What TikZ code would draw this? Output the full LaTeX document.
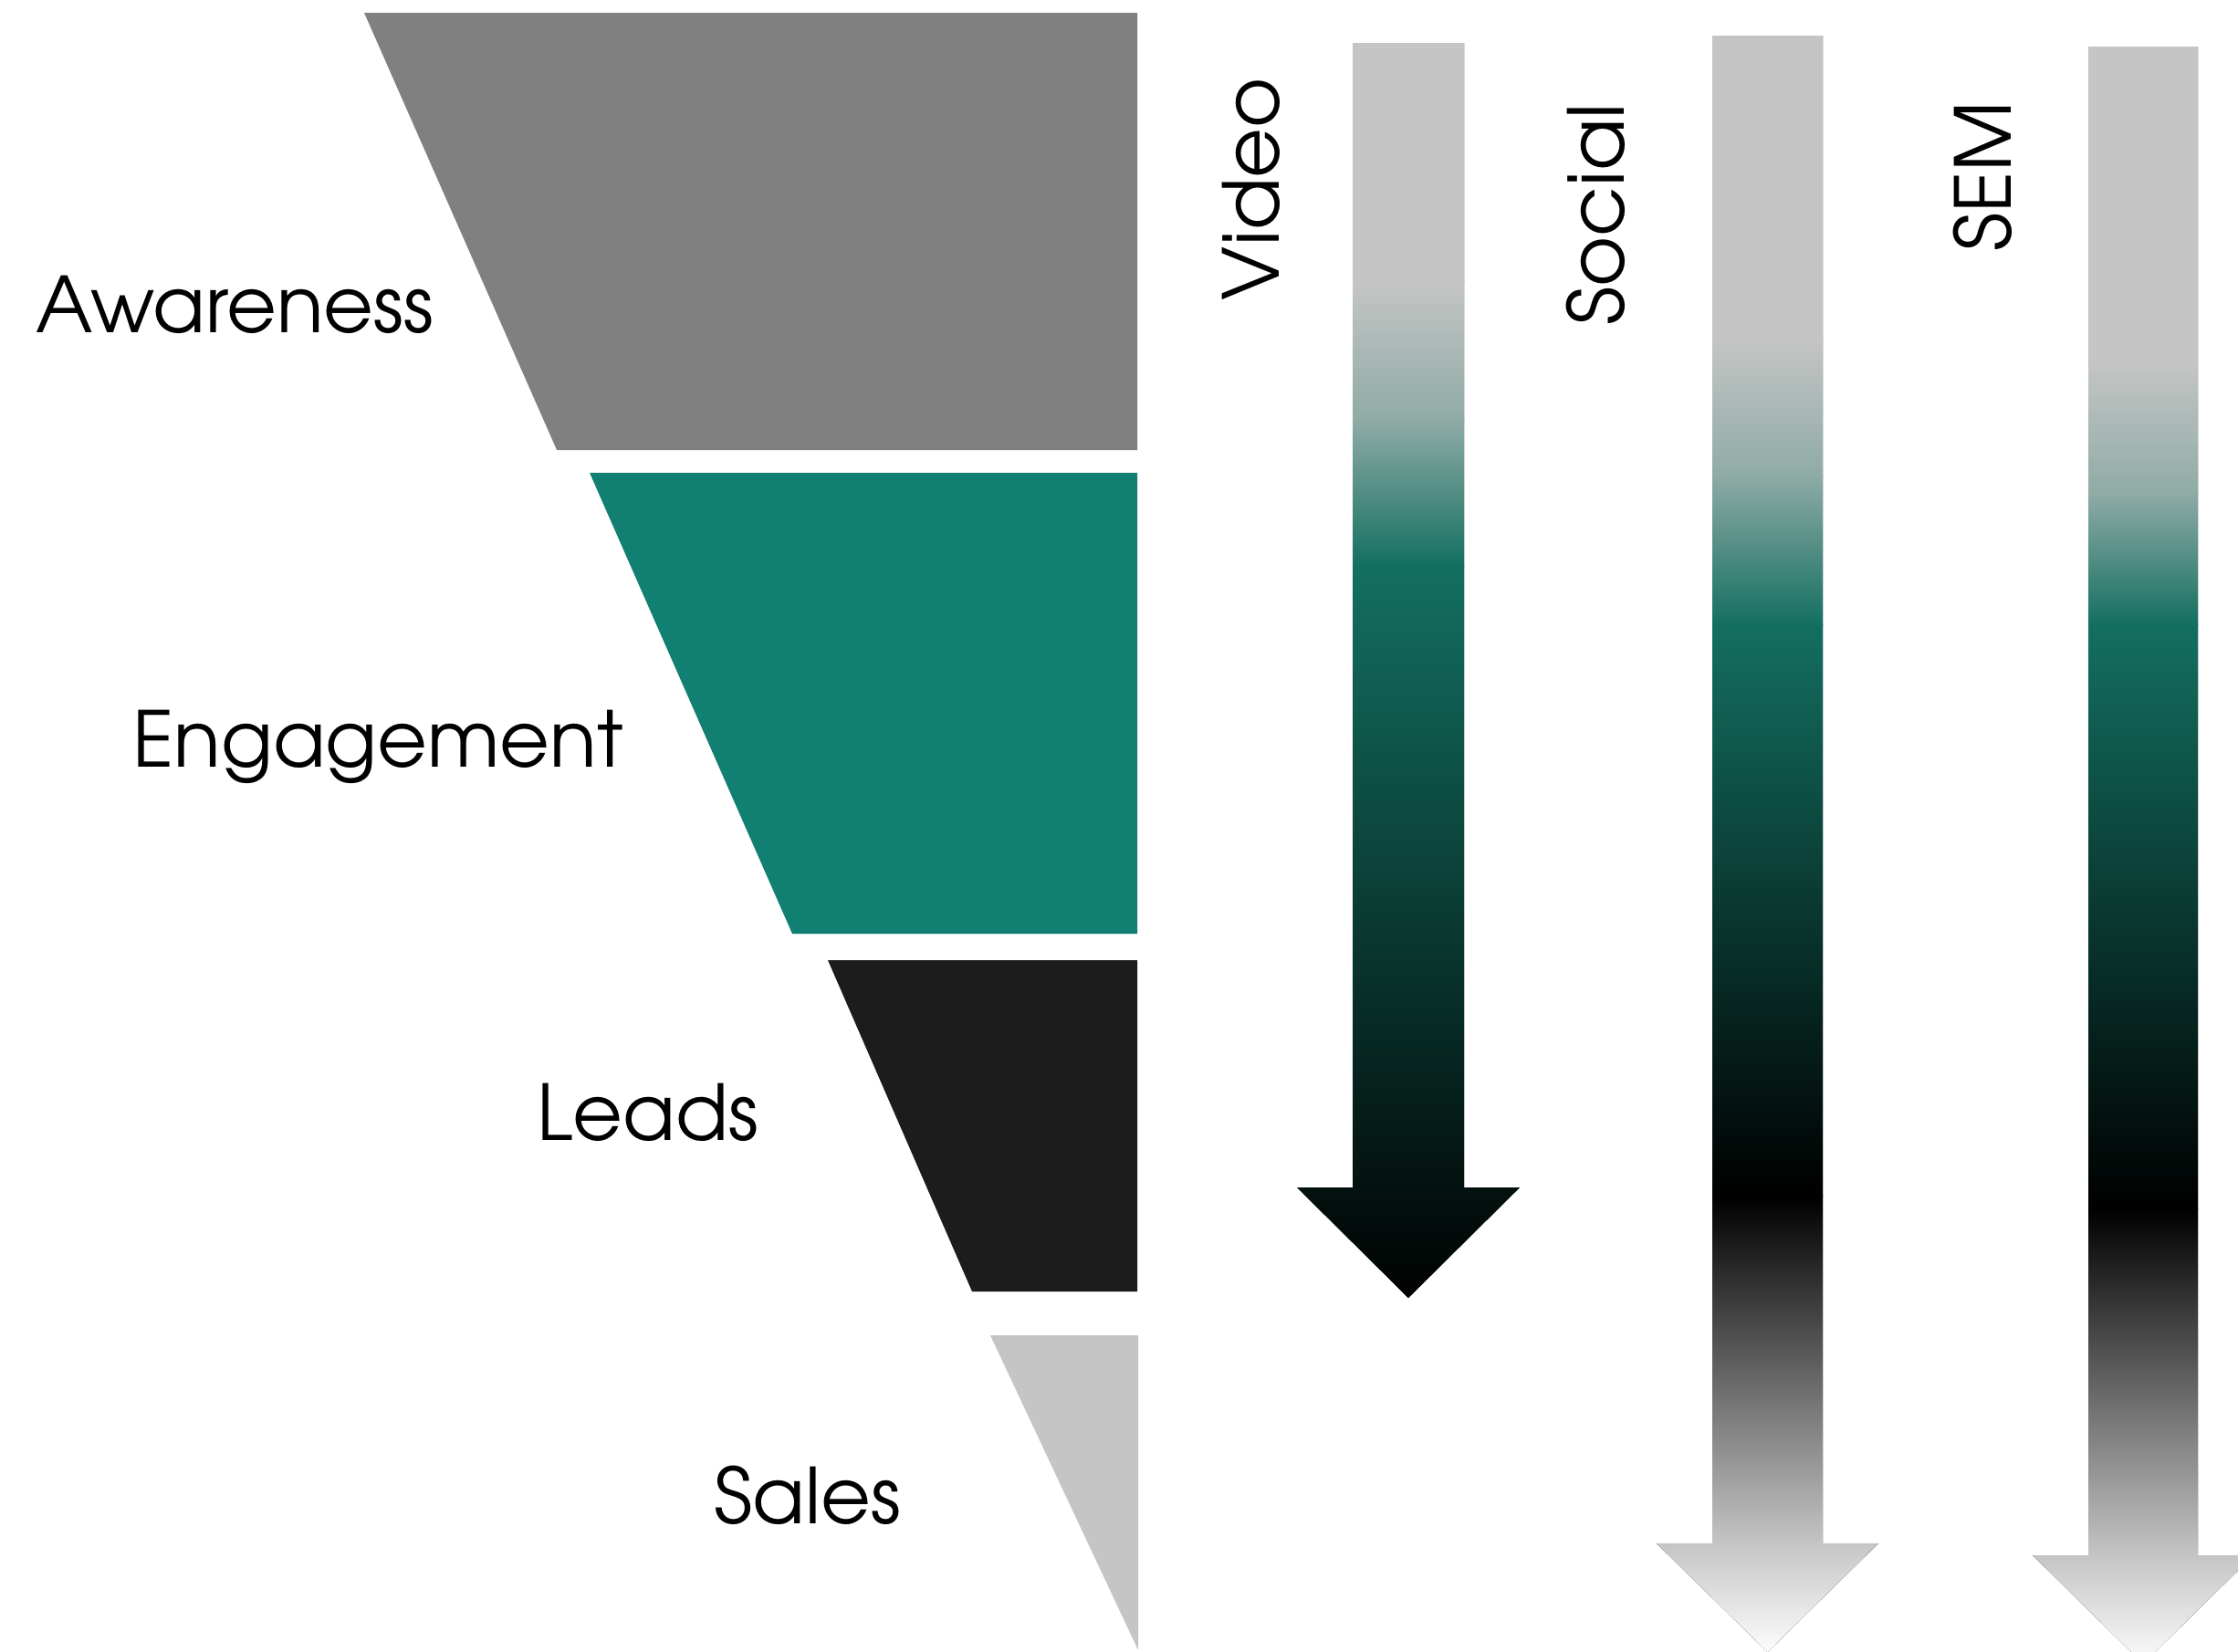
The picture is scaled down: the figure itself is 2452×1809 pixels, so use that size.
\documentclass[tikz,border=0pt]{standalone}
\usepackage{fontspec}
\setmainfont{TeX Gyre Adventor}
\usepackage{xcolor}
\usepackage{tikz}
\definecolor{grayAware}{HTML}{808080}
\definecolor{tealEngage}{HTML}{117F71}
\definecolor{blackLeads}{HTML}{1C1C1C}
\definecolor{graySales}{HTML}{C5C5C5}
\definecolor{tealFade}{HTML}{136F60}
\definecolor{mistFade}{HTML}{8FABA6}
\tikzset{stage-label/.style={anchor=base west, inner sep=0, font=\fontsize{24}{28}\selectfont}}
\tikzset{channel-label/.style={rotate=90, inner sep=0, font=\fontsize{24}{28}\selectfont}}
\tikzset{funnel-part/.style={draw=none}}
% arrow outline: centre x, half shaft, top, head base, half head, tip
\newcommand{\arrowpath}[6]{(#1-#2,#3) -- (#1+#2,#3) -- (#1+#2,#4) -- (#1+#5,#4) -- (#1,#6) -- (#1-#5,#4) -- (#1-#2,#4) -- cycle}
% one vertical band of the fade
\newcommand{\fadeband}[4]{\fill[top color=#3, bottom color=#4] (1300,#1) rectangle (2452,#2);}

\begin{document}
\begin{tikzpicture}[x=0.01cm, y=-0.01cm]
    \useasboundingbox (0,0) rectangle (2452,1809);
    \clip (0,0) rectangle (2452,1809);

    % funnel
    \fill[funnel-part, grayAware] (399,14) -- (1246,14) -- (1246,493) -- (610,493) -- cycle;
    \fill[funnel-part, tealEngage] (646,518) -- (1246,518) -- (1246,1023) -- (868,1023) -- cycle;
    \fill[funnel-part, blackLeads] (907,1052) -- (1246,1052) -- (1246,1415) -- (1065,1415) -- cycle;
    \fill[funnel-part, graySales] (1085,1463) -- (1247,1463) -- (1247,1808) -- cycle;

    \node[stage-label] (awareness) at (39,364) {Awareness};
    \node[stage-label] (engagement) at (145,840) {Engagement};
    \node[stage-label] (leads) at (588,1249) {Leads};
    \node[stage-label] (sales) at (782,1669) {Sales};

    % video
    \begin{scope}
        \clip \arrowpath{1543}{61}{47}{1301}{122}{1422};
        \fadeband{40}{308}{graySales}{graySales}
        \fadeband{307}{461}{graySales}{mistFade}
        \fadeband{460}{621}{mistFade}{tealFade}
        \fadeband{620}{1430}{tealFade}{black}
    \end{scope}

    % social
    \begin{scope}
        \clip \arrowpath{1936.5}{60.5}{39}{1691}{121.5}{1810};
        \fadeband{30}{372}{graySales}{graySales}
        \fadeband{371}{521}{graySales}{mistFade}
        \fadeband{520}{685}{mistFade}{tealFade}
        \fadeband{684}{1311}{tealFade}{black}
        \fadeband{1310}{1692}{black}{graySales}
        \fadeband{1691}{1815}{graySales}{white}
    \end{scope}

    % sem
    \begin{scope}
        \clip \arrowpath{2348}{60}{51}{1704}{121}{1823};
        \fadeband{40}{398}{graySales}{graySales}
        \fadeband{397}{541}{graySales}{mistFade}
        \fadeband{540}{685}{mistFade}{tealFade}
        \fadeband{684}{1325}{tealFade}{black}
        \fadeband{1324}{1705}{black}{graySales}
        \fadeband{1704}{1830}{graySales}{white}
    \end{scope}

    \node[channel-label] (video) at (1371,207) {Video};
    \node[channel-label] (social) at (1748,235) {Social};
    \node[channel-label] (sem) at (2172,193) {SEM};
\end{tikzpicture}
\end{document}
